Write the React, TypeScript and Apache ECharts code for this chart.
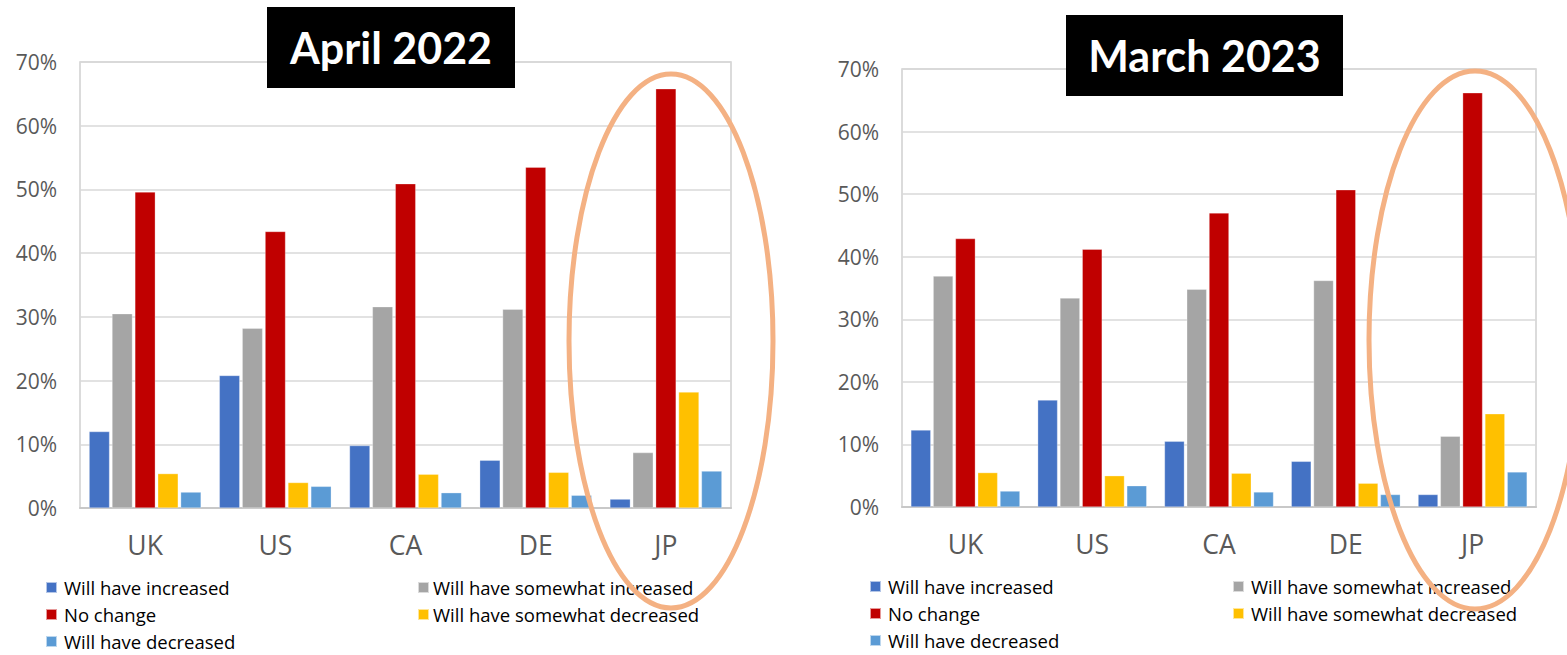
import React, { useEffect, useRef } from "react";
import * as echarts from "echarts";

const categories = ["UK", "US", "CA", "DE", "JP"];
const seriesNames = [
  "Will have increased",
  "Will have somewhat increased",
  "No change",
  "Will have somewhat decreased",
  "Will have decreased",
];
const seriesColors = ["#4472C4", "#A5A5A5", "#C00000", "#FFC000", "#5B9BD5"];

// April 2022
const apr22Increased = [12.0, 20.8, 9.8, 7.5, 1.4];
const apr22SomewhatIncreased = [30.5, 28.2, 31.6, 31.2, 8.7];
const apr22NoChange = [49.6, 43.4, 50.9, 53.5, 65.8];
const apr22SomewhatDecreased = [5.4, 4.0, 5.3, 5.6, 18.2];
const apr22Decreased = [2.5, 3.4, 2.4, 2.0, 5.8];

// March 2023
const mar23Increased = [12.3, 17.1, 10.5, 7.3, 2.0];
const mar23SomewhatIncreased = [36.9, 33.4, 34.8, 36.2, 11.3];
const mar23NoChange = [42.9, 41.2, 47.0, 50.7, 66.2];
const mar23SomewhatDecreased = [5.5, 5.0, 5.4, 3.8, 14.9];
const mar23Decreased = [2.55, 3.4, 2.4, 2.0, 5.6];

const yTicks = [0, 10, 20, 30, 40, 50, 60, 70];

const FONT = "Open Sans";
const TITLE_FONT = "Lato";

export default function App() {
  const ref = useRef<HTMLDivElement>(null);

  useEffect(() => {
    if (!ref.current) return;
    const chart = echarts.init(ref.current, undefined, { renderer: "svg" });

    const panels = [
      {
        title: "April 2022",
        grid: { left: 80, top: 62, width: 651, height: 446 },
        data: [apr22Increased, apr22SomewhatIncreased, apr22NoChange, apr22SomewhatDecreased, apr22Decreased],
        titleBox: { x: 267, y: 7, w: 248, h: 81 },
        ellipse: { cx: 671, cy: 341, rx: 102, ry: 267 },
        legendCols: [45, 417],
        legendTextGap: [2, -1],
        legendRows: [590, 617, 644],
      },
      {
        title: "March 2023",
        grid: { left: 902, top: 69, width: 634, height: 438 },
        data: [mar23Increased, mar23SomewhatIncreased, mar23NoChange, mar23SomewhatDecreased, mar23Decreased],
        titleBox: { x: 1066, y: 15, w: 277, h: 81 },
        ellipse: { cx: 1475, cy: 340, rx: 106, ry: 269 },
        legendCols: [869, 1232],
        legendTextGap: [2, 2],
        legendRows: [589, 616, 643],
      },
    ];

    const grids: any[] = [];
    const xAxes: any[] = [];
    const yAxes: any[] = [];
    const series: any[] = [];
    const legends: any[] = [];
    const graphics: any[] = [];

    const legendPos = [
      [0, 0],
      [1, 0],
      [0, 1],
      [1, 1],
      [0, 2],
    ];

    panels.forEach((p, pi) => {
      grids.push({
        ...p.grid,
        show: true,
        borderColor: "#d0d0d0",
        borderWidth: 1.5,
        backgroundColor: "transparent",
      });
      xAxes.push({
        type: "category",
        gridIndex: pi,
        data: categories,
        axisLine: { show: true, lineStyle: { color: "#c8c8c8", width: 2 } },
        axisTick: { show: false },
        axisLabel: { color: "#595959", fontSize: 26.5, fontFamily: FONT, margin: 23 },
      });
      yAxes.push({
        type: "value",
        gridIndex: pi,
        min: 0,
        max: 70,
        interval: 10,
        axisLine: { show: false },
        axisTick: { show: false },
        splitLine: { show: true, lineStyle: { color: "#d9d9d9", width: 1.5 } },
        axisLabel: {
          color: "#595959",
          fontSize: 21,
          fontFamily: FONT,
          margin: 23,
          formatter: (v: number) => (yTicks.includes(v) ? `${v}%` : ""),
        },
      });
      p.data.forEach((vals, si) => {
        series.push({
          type: "bar",
          name: seriesNames[si],
          xAxisIndex: pi,
          yAxisIndex: pi,
          data: vals,
          barGap: "12%",
          barCategoryGap: "14%",
          itemStyle: { color: seriesColors[si], borderColor: "rgba(255,255,255,0.6)", borderWidth: 0.5 },
        });
      });
      seriesNames.forEach((nm, si) => {
        const [c, r] = legendPos[si];
        legends.push({
          data: [nm],
          left: p.legendCols[c],
          top: p.legendRows[r] - 12,
          padding: 0,
          itemWidth: 11,
          itemHeight: 11,
          icon: "rect",
          selectedMode: false,
          textStyle: {
            color: "#000",
            fontSize: 18.5,
            fontFamily: FONT,
            padding: [0, 0, 0, p.legendTextGap[c]],
          },
        });
      });
      graphics.push({
        type: "rect",
        shape: { x: p.titleBox.x, y: p.titleBox.y, width: p.titleBox.w, height: p.titleBox.h },
        style: { fill: "#000" },
        z: 10,
      });
      graphics.push({
        type: "text",
        x: p.titleBox.x + p.titleBox.w / 2,
        y: p.titleBox.y + p.titleBox.h / 2,
        style: {
          text: p.title,
          fill: "#fff",
          font: `bold 43px ${TITLE_FONT}`,
          align: "center",
          verticalAlign: "middle",
        },
        z: 11,
      });
      graphics.push({
        type: "ellipse",
        shape: { cx: p.ellipse.cx, cy: p.ellipse.cy, rx: p.ellipse.rx, ry: p.ellipse.ry },
        style: { fill: "none", stroke: "#F4B183", lineWidth: 5 },
        z: 20,
      });
    });

    chart.setOption({
      animation: false,
      backgroundColor: "#ffffff",
      textStyle: { fontFamily: FONT },
      grid: grids,
      xAxis: xAxes,
      yAxis: yAxes,
      legend: legends,
      series,
      graphic: graphics,
    });

    return () => chart.dispose();
  }, []);

  return (
    <div
      ref={ref}
      style={{ position: "absolute", left: 0, top: 0, width: 1567, height: 655, background: "#fff" }}
    />
  );
}
